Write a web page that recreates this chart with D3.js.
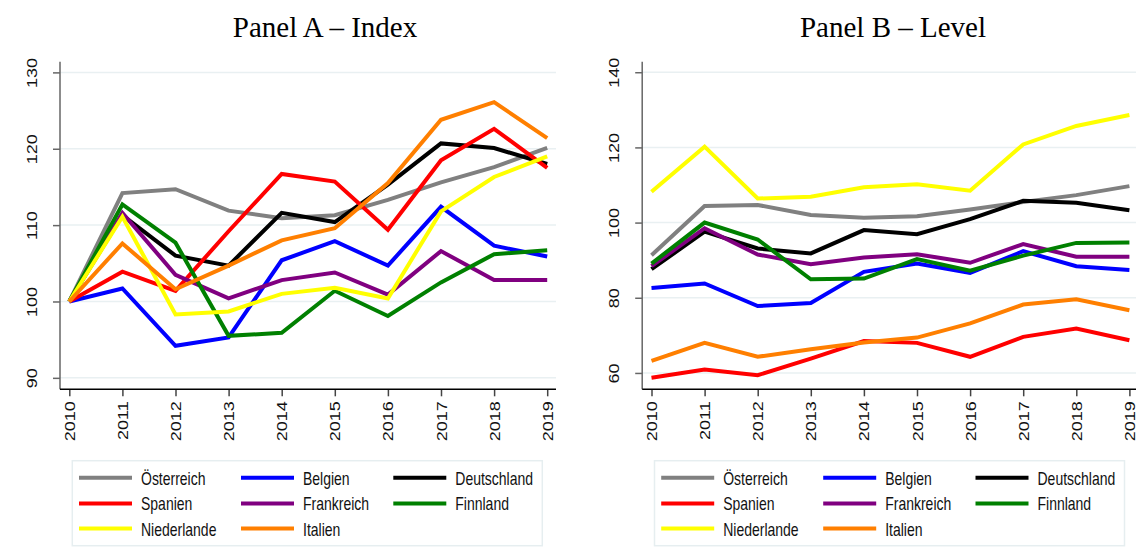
<!DOCTYPE html>
<html>
<head>
<meta charset="utf-8">
<script src="https://cdn.jsdelivr.net/npm/d3@7"></script>
<style>
  body { margin: 0; background: #fff; }
  svg { display: block; }
</style>
</head>
<body>
<div id="chart"></div>
<script>
// years on the x axis
const years = [2010, 2011, 2012, 2013, 2014, 2015, 2016, 2017, 2018, 2019];

// countries, in legend / drawing order
const countries = ["Österreich", "Belgien", "Deutschland", "Spanien", "Frankreich", "Finnland", "Niederlande", "Italien"];
const lineColors = ["#808080", "#0000ff", "#000000", "#ff0000", "#800080", "#008000", "#ffff00", "#ff7f00"];

// Panel A – Index (2010 = 100)
const indexOesterreich  = [100, 114.2, 114.7, 111.9, 110.9, 111.3, 113.3, 115.6, 117.6, 120.1];
const indexBelgien      = [100, 101.7, 94.2, 95.3, 105.4, 107.9, 104.7, 112.4, 107.3, 105.9];
const indexDeutschland  = [100, 111.3, 106.0, 104.7, 111.6, 110.4, 115.3, 120.7, 120.1, 118.0];
const indexSpanien      = [100, 103.9, 101.4, 109.2, 116.7, 115.7, 109.4, 118.5, 122.6, 117.5];
const indexFrankreich   = [100, 111.6, 103.5, 100.4, 102.8, 103.8, 100.9, 106.6, 102.8, 102.8];
const indexFinnland     = [100, 112.7, 107.7, 95.5, 95.9, 101.4, 98.1, 102.5, 106.2, 106.7];
const indexNiederlande  = [100, 111.1, 98.3, 98.7, 101.0, 101.8, 100.4, 111.8, 116.3, 119.0];
const indexItalien      = [100, 107.6, 101.6, 104.7, 108.0, 109.6, 115.5, 123.8, 126.1, 121.4];

// Panel B – Level
const levelOesterreich  = [91.3, 104.4, 104.7, 102.0, 101.3, 101.7, 103.5, 105.5, 107.3, 109.7];
const levelBelgien      = [82.6, 83.8, 77.8, 78.6, 86.9, 89.1, 86.6, 92.4, 88.4, 87.4];
const levelDeutschland  = [87.6, 97.6, 93.1, 91.8, 98.0, 96.9, 100.9, 105.8, 105.3, 103.3];
const levelSpanien      = [58.7, 60.9, 59.4, 63.8, 68.5, 68.0, 64.3, 69.6, 71.8, 68.7];
const levelFrankreich   = [88.4, 98.5, 91.5, 88.9, 90.7, 91.6, 89.3, 94.3, 90.9, 90.9];
const levelFinnland     = [89.1, 100.0, 95.5, 84.9, 85.1, 90.3, 87.2, 91.2, 94.6, 94.7];
const levelNiederlande  = [108.2, 120.2, 106.4, 106.9, 109.4, 110.2, 108.5, 120.8, 125.7, 128.6];
const levelItalien      = [63.2, 68.0, 64.3, 66.3, 68.1, 69.4, 73.2, 78.2, 79.6, 76.7];

const ticksA = [90, 100, 110, 120, 130];
const ticksB = [60, 80, 100, 120, 140];

const W = 1136, H = 559;

const svg = d3.select("#chart")
  .append("svg")
  .attr("width", W)
  .attr("height", H);

function drawPanel(opts) {
  const g = svg.append("g").attr("transform", `translate(${opts.dx},0)`);

  const x = d3.scaleLinear().domain([2010, 2019]).range([69.3, 547.2]);
  const y = d3.scaleLinear().domain(opts.yDomain).range([389.3, 61.7]);
  const left = 60, right = 556;

  // title
  svg.append("text")
    .attr("x", opts.titleX)
    .attr("y", 37)
    .attr("text-anchor", "middle")
    .style("font-family", "'Liberation Serif', 'Times New Roman', serif")
    .style("font-size", "29px")
    .style("fill", "#000")
    .text(opts.title);

  // gridlines
  g.selectAll("line.grid")
    .data(opts.ticks)
    .enter()
    .append("line")
    .attr("class", "grid")
    .attr("x1", left)
    .attr("x2", right)
    .attr("y1", (d) => y(d))
    .attr("y2", (d) => y(d))
    .attr("stroke", "#e9f0f2")
    .attr("stroke-width", 1.5);

  // series lines
  const line = d3.line()
    .x((d, i) => x(years[i]))
    .y((d) => y(d));

  g.selectAll("path.series")
    .data(opts.series)
    .enter()
    .append("path")
    .attr("class", "series")
    .attr("d", (d) => line(d))
    .attr("fill", "none")
    .attr("stroke", (d, i) => lineColors[i])
    .attr("stroke-width", 4)
    .attr("stroke-linejoin", "miter");

  // y axis
  const yAxis = g.append("g")
    .attr("transform", `translate(${left},0)`)
    .call(d3.axisLeft(y).tickValues(opts.ticks).tickSize(7).tickFormat(d3.format("d")));
  yAxis.select(".domain").remove();
  yAxis.append("line")
    .attr("x1", 0).attr("x2", 0)
    .attr("y1", 61.7).attr("y2", 389.3)
    .attr("stroke", "#666").attr("stroke-width", 1.5);
  yAxis.selectAll(".tick line").attr("stroke", "#666").attr("stroke-width", 1.5);
  yAxis.selectAll(".tick text")
    .attr("x", null)
    .attr("dy", null)
    .attr("transform", "translate(-23,0) rotate(-90) scale(1.2,1)")
    .attr("text-anchor", "middle")
    .style("font-family", "'Liberation Sans', Arial, sans-serif")
    .style("font-size", "15px")
    .style("fill", "#111");

  // x axis
  const xAxis = g.append("g")
    .attr("transform", "translate(0,389.3)")
    .call(d3.axisBottom(x).tickValues(years).tickSize(7).tickFormat(d3.format("d")));
  xAxis.select(".domain").remove();
  xAxis.append("line")
    .attr("x1", left).attr("x2", right)
    .attr("y1", 0).attr("y2", 0)
    .attr("stroke", "#000").attr("stroke-width", 1.5);
  xAxis.selectAll(".tick line").attr("stroke", "#444").attr("stroke-width", 1.5);
  xAxis.selectAll(".tick text")
    .attr("y", null)
    .attr("dy", null)
    .attr("transform", "translate(5,12) rotate(-90) scale(1.2,1)")
    .attr("text-anchor", "end")
    .style("font-family", "'Liberation Sans', Arial, sans-serif")
    .style("font-size", "15px")
    .style("fill", "#111");

  // legend
  const leg = g.append("g");
  leg.append("rect")
    .attr("x", 72.3).attr("y", 460.7)
    .attr("width", 470).attr("height", 85)
    .attr("fill", "#fff")
    .attr("stroke", "#e6eef0")
    .attr("stroke-width", 1.5);

  const colX = [79, 241, 393.3];
  const rowY = [477.7, 503.4, 528.6];

  countries.forEach((name, i) => {
    const cx = colX[i % 3];
    const cy = rowY[Math.floor(i / 3)];
    leg.append("line")
      .attr("x1", cx).attr("x2", cx + 53)
      .attr("y1", cy).attr("y2", cy)
      .attr("stroke", lineColors[i])
      .attr("stroke-width", 4);
    leg.append("text")
      .attr("transform", `translate(${cx + 62},${cy + 7}) scale(0.8,1)`)
      .style("font-family", "'Liberation Sans', Arial, sans-serif")
      .style("font-size", "17.5px")
      .style("fill", "#111")
      .text(name);
  });
}

drawPanel({
  dx: 0,
  title: "Panel A – Index",
  titleX: 325,
  yDomain: [88.5, 131.4],
  ticks: ticksA,
  series: [indexOesterreich, indexBelgien, indexDeutschland, indexSpanien,
           indexFrankreich, indexFinnland, indexNiederlande, indexItalien]
});

drawPanel({
  dx: 582.2,
  title: "Panel B – Level",
  titleX: 893,
  yDomain: [55.65, 142.8],
  ticks: ticksB,
  series: [levelOesterreich, levelBelgien, levelDeutschland, levelSpanien,
           levelFrankreich, levelFinnland, levelNiederlande, levelItalien]
});
</script>
</body>
</html>
